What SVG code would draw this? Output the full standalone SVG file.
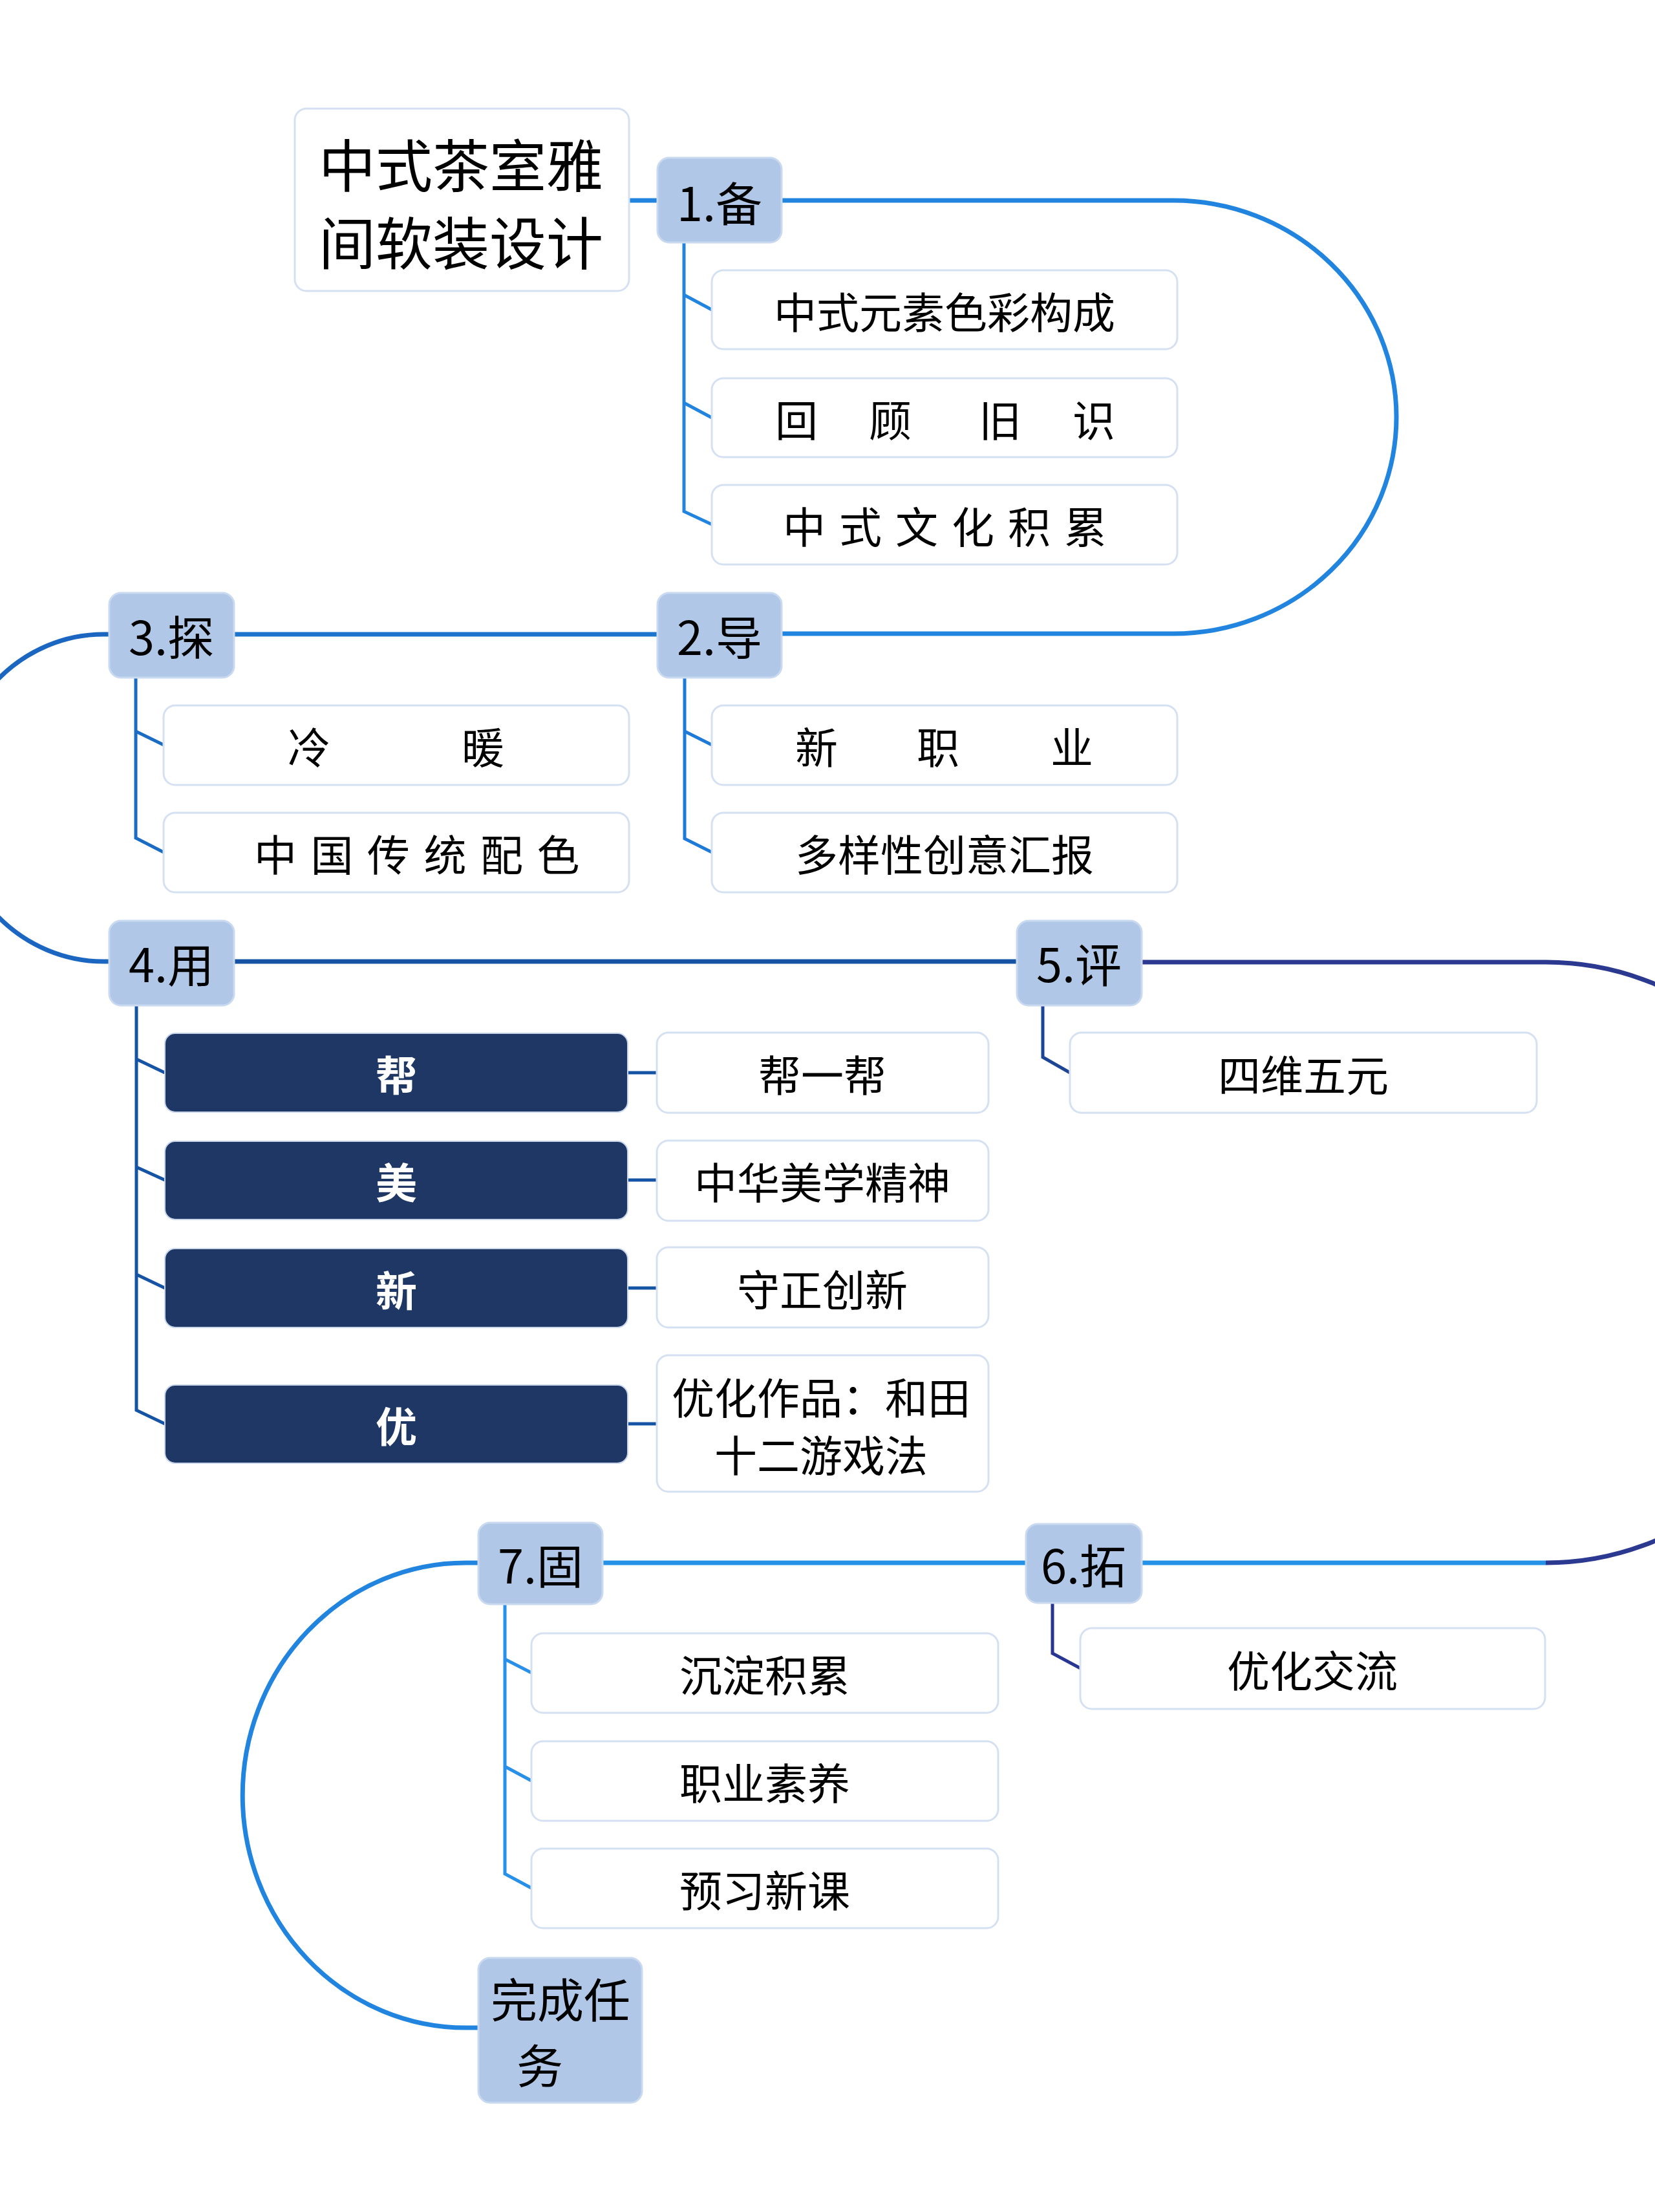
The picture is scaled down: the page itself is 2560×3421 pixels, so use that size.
<svg xmlns="http://www.w3.org/2000/svg" width="2560" height="3421" viewBox="0 0 2560 3421">
<style>
text{font-family:"Noto Sans CJK SC","Noto Sans",sans-serif;fill:#000;dominant-baseline:central}
.c{text-anchor:middle}
.s{text-anchor:start}
.box{fill:#fff;stroke:#d5e1f2;stroke-width:3}
.topic{fill:#b0c7e8;stroke:#c9d9ef;stroke-width:3}
.dark{fill:#1e3765;stroke:#c9d6ea;stroke-width:2}
.t72{font-size:72px}
.t66{font-size:66px}
.t88{font-size:88px}
.w{fill:#fff;font-weight:bold;font-size:64px}
.ln{fill:none;stroke-width:7}
.br{fill:none;stroke-width:5}
</style>
<rect width="2560" height="3421" fill="#fff"/>
<g id="connectors">
<path class="ln" stroke="#2185e0" d="M973 310 H1017"/>
<path class="ln" stroke="#2185e0" d="M1209 310 H1815 A345 335 0 0 1 1815 980 H1209"/>
<path class="ln" stroke="#1d74cc" d="M1017 981 H362"/>
<path class="ln" stroke="#1a66c0" d="M170 981 H160 A237 253 0 0 0 160 1487 H170"/>
<path class="ln" stroke="#1652a3" d="M362 1487 H1574"/>
<path class="ln" stroke="#2b3990" d="M1766 1488 H2391 A450 464.5 0 0 1 2391 2417"/>
<path class="ln" stroke="#2592e8" d="M1766 2417 H2391"/>
<path class="ln" stroke="#2592e8" d="M932 2417 H1587"/>
<path class="ln" stroke="#2185e0" d="M740 2417 H720 A345 359.5 0 0 0 720 3136 H740"/>
<path class="br" stroke="#2185e0" d="M1058 376 V791 L1101 811 M1058 456 L1101 479 M1058 623 L1101 646"/>
<path class="br" stroke="#1e7ad8" d="M1059 1048 V1297 L1101 1318 M1059 1131 L1101 1152"/>
<path class="br" stroke="#1a6bc4" d="M210 1048 V1296 L253 1318 M210 1131 L253 1152"/>
<path class="br" stroke="#1553a5" d="M211 1555 V2181 L255 2202 M211 1638 L255 1659 M211 1805 L255 1825 M211 1971 L255 1992"/>
<path class="br" stroke="#1553a5" d="M971 1659 H1016 M971 1825 H1016 M971 1992 H1016 M971 2202 H1016"/>
<path class="br" stroke="#1d4596" d="M1613 1555 V1635 L1655 1659"/>
<path class="br" stroke="#283593" d="M1628 2479 V2557 L1671 2580"/>
<path class="br" stroke="#2890e8" d="M781 2481 V2898 L822 2920 M781 2566 L822 2587 M781 2732 L822 2754"/>
</g>
<g id="root"><rect class="box" x="456" y="168" width="517" height="282" rx="18"/><text class="c t88" x="713" y="250">中式茶室雅</text><text class="c t88" x="713" y="370">间软装设计</text></g>
<g id="t1"><rect class="topic" x="1017" y="244" width="192" height="131" rx="18"/><text class="c t72" x="1113" y="310">1.备</text></g>
<g id="t1a"><rect class="box" x="1101" y="418" width="720" height="122" rx="18"/><text class="c t66" x="1461" y="479">中式元素色彩构成</text></g>
<g id="t1b"><rect class="box" x="1101" y="585" width="720" height="122" rx="18"/><text class="s t66" x="1199 1266 1344 1411 1514 1581 1659" y="646">回 顾 旧 识</text></g>
<g id="t1c"><rect class="box" x="1101" y="750" width="720" height="123" rx="18"/><text class="s t66" x="1211" y="811" letter-spacing="21">中式文化积累</text></g>
<g id="t2"><rect class="topic" x="1017" y="917" width="192" height="131" rx="18"/><text class="c t72" x="1113" y="981">2.导</text></g>
<g id="t2a"><rect class="box" x="1101" y="1091" width="720" height="123" rx="18"/><text class="s t66" x="1230 1297 1418 1485 1625" y="1152">新 职 业</text></g>
<g id="t2b"><rect class="box" x="1101" y="1257" width="720" height="123" rx="18"/><text class="c t66" x="1461" y="1318">多样性创意汇报</text></g>
<g id="t3"><rect class="topic" x="169" y="917" width="193" height="131" rx="18"/><text class="c t72" x="265" y="981">3.探</text></g>
<g id="t3a"><rect class="box" x="253" y="1091" width="720" height="123" rx="18"/><text class="s t66" x="445 512 714" y="1152">冷 暖</text></g>
<g id="t3b"><rect class="box" x="253" y="1257" width="720" height="123" rx="18"/><text class="s t66" x="393" y="1318" letter-spacing="21.5">中国传统配色</text></g>
<g id="t4"><rect class="topic" x="169" y="1424" width="193" height="131" rx="18"/><text class="c t72" x="265" y="1487">4.用</text></g>
<g id="t4a"><rect class="dark" x="255" y="1598" width="716" height="122" rx="16"/><text class="c w" x="613" y="1659">帮</text></g>
<g id="t4a1"><rect class="box" x="1016" y="1597" width="513" height="124" rx="18"/><text class="c t66" x="1272" y="1659">帮一帮</text></g>
<g id="t4b"><rect class="dark" x="255" y="1765" width="716" height="121" rx="16"/><text class="c w" x="613" y="1825">美</text></g>
<g id="t4b1"><rect class="box" x="1016" y="1764" width="513" height="124" rx="18"/><text class="c t66" x="1272" y="1825">中华美学精神</text></g>
<g id="t4c"><rect class="dark" x="255" y="1931" width="716" height="122" rx="16"/><text class="c w" x="613" y="1992">新</text></g>
<g id="t4c1"><rect class="box" x="1016" y="1929" width="513" height="124" rx="18"/><text class="c t66" x="1272" y="1991">守正创新</text></g>
<g id="t4d"><rect class="dark" x="255" y="2142" width="716" height="121" rx="16"/><text class="c w" x="613" y="2202">优</text></g>
<g id="t4d1"><rect class="box" x="1016" y="2096" width="513" height="211" rx="18"/><text class="c t66" x="1270" y="2158">优化作品：和田</text><text class="c t66" x="1270" y="2247">十二游戏法</text></g>
<g id="t5"><rect class="topic" x="1573" y="1424" width="193" height="131" rx="18"/><text class="c t72" x="1669" y="1487">5.评</text></g>
<g id="t5a"><rect class="box" x="1655" y="1597" width="722" height="124" rx="18"/><text class="c t66" x="2016" y="1659">四维五元</text></g>
<g id="t6"><rect class="topic" x="1587" y="2357" width="179" height="122" rx="18"/><text class="c t72" x="1676" y="2417">6.拓</text></g>
<g id="t6a"><rect class="box" x="1671" y="2518" width="719" height="125" rx="18"/><text class="c t66" x="2030" y="2580">优化交流</text></g>
<g id="t7"><rect class="topic" x="740" y="2355" width="192" height="126" rx="18"/><text class="c t72" x="836" y="2417">7.固</text></g>
<g id="t7a"><rect class="box" x="822" y="2526" width="722" height="123" rx="18"/><text class="c t66" x="1183" y="2587">沉淀积累</text></g>
<g id="t7b"><rect class="box" x="822" y="2693" width="722" height="123" rx="18"/><text class="c t66" x="1183" y="2754">职业素养</text></g>
<g id="t7c"><rect class="box" x="822" y="2859" width="722" height="123" rx="18"/><text class="c t66" x="1183" y="2920">预习新课</text></g>
<g id="end"><rect class="topic" x="740" y="3028" width="253" height="224" rx="18"/><text class="s t72" x="759" y="3088" font-size="70">完成任</text><text class="s t72" x="799" y="3190" font-size="70">务</text></g>
</svg>
